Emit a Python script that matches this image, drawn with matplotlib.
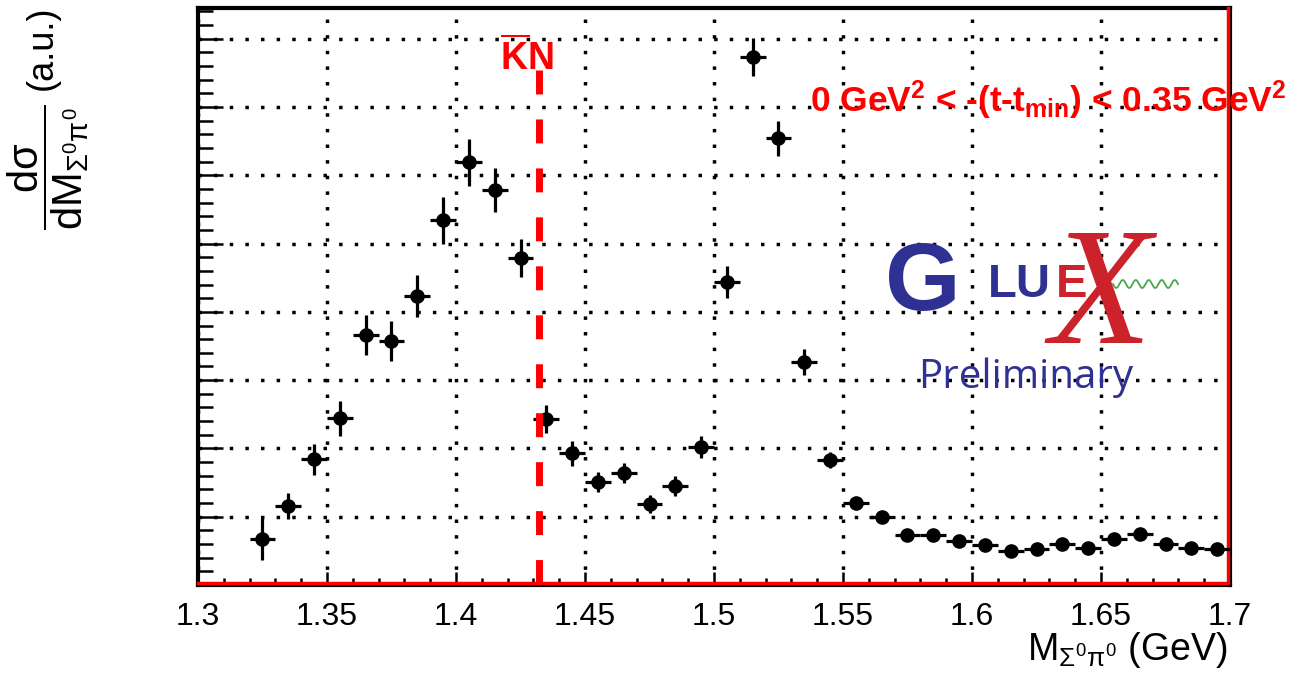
import matplotlib
matplotlib.use("Agg")
import matplotlib.pyplot as plt
import numpy as np
from matplotlib.ticker import MultipleLocator, NullFormatter
from matplotlib.lines import Line2D

# ---------------------
# Fonts (ROOT style: upright everywhere)
# ---------------------
plt.rcParams['font.family'] = ['Liberation Sans', 'DejaVu Sans']
plt.rcParams['mathtext.fontset'] = 'custom'
plt.rcParams['mathtext.rm'] = 'Liberation Sans'
plt.rcParams['mathtext.it'] = 'Liberation Sans'
plt.rcParams['mathtext.bf'] = 'Liberation Sans:bold'

# ---------------------
# Data (bin centers in GeV, dsigma/dM in a.u.)
# ---------------------
mass = [1.325, 1.335, 1.345, 1.355, 1.365, 1.375, 1.385, 1.395, 1.405, 1.415,
        1.425, 1.435, 1.445, 1.455, 1.465, 1.475, 1.485, 1.495, 1.505, 1.515,
        1.525, 1.535, 1.545, 1.555, 1.565, 1.575, 1.585, 1.595, 1.605, 1.615,
        1.625, 1.635, 1.645, 1.655, 1.665, 1.675, 1.685, 1.695]
dsig = [0.67, 1.16, 1.84, 2.44, 3.66, 3.57, 4.23, 5.34, 6.19, 5.78,
        4.79, 2.43, 1.93, 1.51, 1.64, 1.19, 1.45, 2.02, 4.44, 7.73,
        6.54, 3.27, 1.83, 1.20, 1.00, 0.73, 0.73, 0.64, 0.59, 0.50,
        0.53, 0.60, 0.54, 0.67, 0.75, 0.60, 0.54, 0.53]
dsig_err = [0.31, 0.19, 0.23, 0.26, 0.29, 0.29, 0.31, 0.34, 0.34, 0.32,
            0.28, 0.20, 0.18, 0.15, 0.15, 0.13, 0.15, 0.16, 0.23, 0.28,
            0.26, 0.19, 0.12, 0.09, 0.07, 0.06, 0.06, 0.06, 0.06, 0.05,
            0.05, 0.06, 0.05, 0.06, 0.06, 0.06, 0.05, 0.05]
bin_half = 0.005
kn_threshold = 1.432
xtick_labels = ['1.3', '1.35', '1.4', '1.45', '1.5', '1.55', '1.6', '1.65', '1.7']

W, H = 1306, 680
fig = plt.figure(figsize=(W / 100, H / 100), dpi=100)
ax = fig.add_axes([198 / W, 1 - 585 / H, (1230 - 198) / W, (585 - 8) / H])

ax.set_xlim(1.3, 1.7)
ax.set_ylim(0, 8.45)

# grid
ax.grid(True, which='major', color='black', lw=2.5, linestyle=(0, (1, 3.5)))
ax.set_axisbelow(True)

# data points
ax.errorbar(mass, dsig, xerr=bin_half, yerr=dsig_err, fmt='o', color='black',
            ms=9.5, elinewidth=2.3, capsize=0, zorder=5)

# red histogram outline
ax.plot([1.3, 1.6993, 1.6993], [0.03, 0.03, 8.45], color='red', lw=2.5,
        zorder=4, clip_on=False)

# KN threshold
ax.plot([kn_threshold, kn_threshold], [7.54, 0], color='red', lw=5,
        dashes=(3.45, 3.6), zorder=6)
ax.text(kn_threshold - 0.0150, 7.54, r'$\overline{\mathbf{K}}\mathbf{N}$',
        color='red', fontsize=27, ha='left', va='baseline')

# axes style
for s in ax.spines.values():
    s.set_linewidth(3)
ax.xaxis.set_minor_locator(MultipleLocator(0.01))
ax.yaxis.set_major_locator(MultipleLocator(1))
ax.yaxis.set_minor_locator(MultipleLocator(0.2))
ax.yaxis.set_major_formatter(NullFormatter())
ax.set_xticks(np.linspace(1.3, 1.7, len(xtick_labels)))
ax.set_xticklabels(xtick_labels)
ax.tick_params(which='both', direction='in', top=False, right=False, width=1.8)
ax.tick_params(axis='x', which='major', length=9.5, labelsize=23, pad=12)
ax.tick_params(axis='x', which='minor', length=5)
ax.tick_params(axis='y', which='major', length=18, labelleft=False)
ax.tick_params(axis='y', which='minor', length=11)

# axis titles
fig.text(1228 / W, 1 - 650 / H, r'M$_{\Sigma^{0}\pi^{0}}$ (GeV)', fontsize=27,
         ha='right', va='center')
fig.text(42 / W, 1 - 5 / H, '(a.u.)', fontsize=26, rotation=90,
         ha='center', va='top')
fig.text(48 / W, 1 - 167 / H,
         r'$\dfrac{\mathrm{d}\sigma}{\mathrm{dM}_{\Sigma^{0}\pi^{0}}}$',
         fontsize=30, rotation=90, ha='center', va='center')

# t range label
fig.text(810 / W, 1 - 112 / H,
         r'0 GeV$^{\mathbf{2}}$ < -(t-t$_{\mathbf{min}}$) < 0.35 GeV$^{\mathbf{2}}$',
         color='red', fontsize=25.5, fontweight='bold', ha='left', va='baseline')

# GlueX logo
blue = '#2e3192'
red = '#cc2229'
fig.text(885 / W, 1 - 310 / H, 'G', color=blue, fontsize=70, fontweight='bold',
         ha='left', va='baseline')
fig.text(988 / W, 1 - 297 / H, 'LU', color=blue, fontsize=34, fontweight='bold',
         ha='left', va='baseline')
fig.text(1056 / W, 1 - 297 / H, 'E', color=red, fontsize=34, fontweight='bold',
         ha='left', va='baseline')
fig.text(1100 / W, 1 - 343 / H, 'X', color=red, fontsize=120,
         family='Liberation Serif', style='italic', ha='center', va='baseline')
wx = np.linspace(1113, 1178, 200)
wy = 284 + 4 * np.sin((wx - 1113) / 65 * 2 * np.pi * 5)
fig.add_artist(Line2D(wx / W, 1 - wy / H, color='#4aa84a', lw=1.3))
fig.text(918 / W, 1 - 388 / H, 'Preliminary', color=blue, fontsize=29,
         family='Open Sans', ha='left', va='baseline')

fig.savefig('out.png', dpi=100)
